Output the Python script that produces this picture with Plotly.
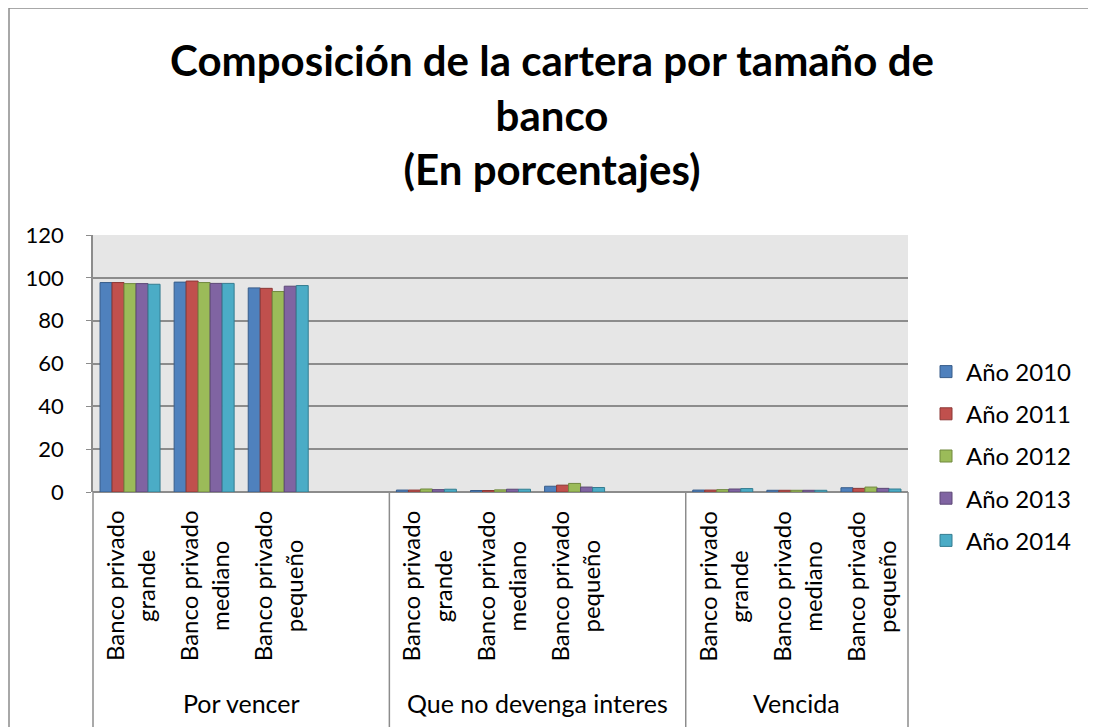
import plotly.graph_objects as go

# Data
groups = ["Por vencer", "Que no devenga interes", "Vencida"]
banks = ["Banco privado<br>grande", "Banco privado<br>mediano", "Banco privado<br>pequeño"]
years = ["Año 2010", "Año 2011", "Año 2012", "Año 2013", "Año 2014"]

# one list per year: 3 groups x 3 bank sizes
y2010 = [97.8, 98.0, 95.3, 0.9, 0.7, 2.7, 0.9, 0.8, 2.0]
y2011 = [97.8, 98.5, 95.1, 0.9, 0.7, 3.2, 0.9, 0.8, 1.7]
y2012 = [97.3, 97.8, 93.6, 1.4, 1.0, 4.0, 1.1, 0.8, 2.3]
y2013 = [97.3, 97.4, 96.1, 1.1, 1.3, 2.3, 1.4, 0.8, 1.7]
y2014 = [97.0, 97.4, 96.4, 1.3, 1.3, 2.1, 1.6, 0.8, 1.4]
values = [y2010, y2011, y2012, y2013, y2014]

fills = ["#4f81bd", "#c0504d", "#9bbb59", "#8064a2", "#4bacc6"]
edges = ["#385d8a", "#8c3836", "#71893f", "#5c4776", "#357d91"]

FONT = "Lato"
n_slots = 11  # 3 + blank + 3 + blank + 3
x_pos = [g * 4 + b for g in range(len(groups)) for b in range(len(banks))]

fig = go.Figure()
for i, yr in enumerate(years):
    fig.add_trace(go.Bar(
        x=x_pos, y=values[i], name=yr, legendgroup=yr,
        marker=dict(color=fills[i], line=dict(color=edges[i], width=1)),
    ))

# page has an 8px body margin, so work in screen pixels and shift
OFF = 8
W, H = 1096 - OFF, 727 - OFF
L, R, T, B = 93 - OFF, 908 - OFF, 235 - OFF, 492 - OFF
pw, ph = R - L, B - T

def px_x(sx):
    return (sx - OFF - L) / pw

def px_y(sy):
    return (B - (sy - OFF)) / ph

grey = "#8c8c8c"
shapes = []
# category box separators below axis
for bnd in [-0.5, 3.5, 7.5, 10.5]:
    xp = (bnd + 0.5) / n_slots
    shapes.append(dict(type="line", xref="paper", yref="paper",
                       x0=xp, x1=xp, y0=0, y1=px_y(740),
                       line=dict(color=grey, width=1.5)))
# outer chart border
shapes.append(dict(type="rect", xref="paper", yref="paper",
                   x0=px_x(9), x1=px_x(1093), y0=px_y(760), y1=px_y(8),
                   line=dict(color=grey, width=1.5), layer="below"))

annotations = []
for g, grp in enumerate(groups):
    for b, bank in enumerate(banks):
        xc = (g * 4 + b + 0.5) / n_slots
        annotations.append(dict(
            text=bank, xref="paper", yref="paper", x=xc, y=px_y(586),
            textangle=-90, showarrow=False, align="center",
            xanchor="center", yanchor="middle",
            font=dict(family=FONT, size=24, color="black")))
    start = g * 4
    end = min(g * 4 + 4, n_slots)
    annotations.append(dict(
        text=grp, xref="paper", yref="paper",
        x=(start + end) / 2 / n_slots, y=px_y(703),
        showarrow=False, xanchor="center", yanchor="middle",
        font=dict(family=FONT, size=25, color="black")))

fig.update_layout(
    width=W, height=H,
    margin=dict(l=L, r=W - R, t=T, b=H - B),
    paper_bgcolor="white", plot_bgcolor="#e6e6e6",
    title=dict(text="Composición de la cartera por tamaño de<br>banco<br>(En porcentajes)",
               x=0.5, xref="container", y=1 - 68 / H, yref="container",
               yanchor="top",
               font=dict(family=FONT, size=42, color="black", weight="bold")),
    barmode="group", bargap=0.19, bargroupgap=0,
    showlegend=True,
    legend=dict(x=px_x(926), y=px_y(456), xanchor="left", yanchor="middle",
                font=dict(family=FONT, size=24, color="black"),
                tracegroupgap=8, bgcolor="rgba(0,0,0,0)"),
    shapes=shapes, annotations=annotations,
    font=dict(family=FONT, color="black"),
)
fig.update_xaxes(range=[-0.5, n_slots - 0.5], showticklabels=False, showgrid=False,
                 zeroline=False, showline=False, ticks="")
fig.update_yaxes(range=[0, 120], dtick=20, showgrid=True, gridcolor=grey, gridwidth=1.5,
                 zeroline=True, zerolinecolor=grey, zerolinewidth=1.5,
                 showline=True, linecolor=grey, linewidth=1.5,
                 ticks="outside", ticklen=5, tickcolor=grey,
                 tickfont=dict(family=FONT, size=22, color="black"),
                 ticklabelstandoff=18)

fig.write_html("out.html")
